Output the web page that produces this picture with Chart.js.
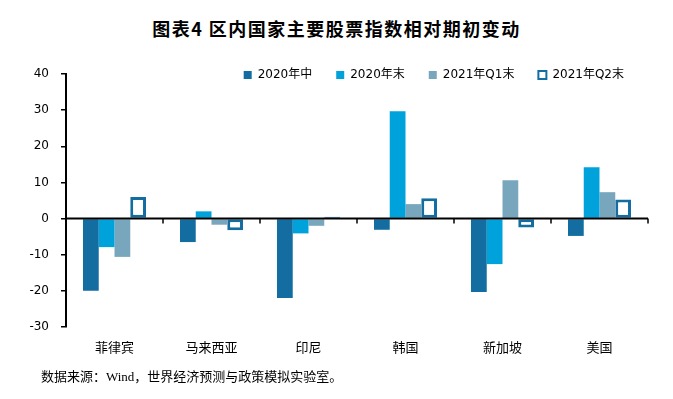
<!DOCTYPE html>
<html>
<head>
<meta charset="utf-8">
<script src="https://cdn.jsdelivr.net/npm/chart.js@4.4.1/dist/chart.umd.min.js"></script>
<style>
    html, body { margin: 0; padding: 0; background: #fff; }
    .wrap { position: relative; width: 673px; height: 399px; overflow: hidden; }
    .title {
        position: absolute; left: 0; top: 15px; width: 673px; text-align: center;
        font: bold 18px 'Noto Sans CJK SC', sans-serif; letter-spacing: 1.5px; color: #000;
    }
    .source {
        position: absolute; left: 41px; top: 366px;
        font: 13px 'Liberation Serif', 'Noto Sans CJK SC', serif; color: #000;
    }
    canvas { position: absolute; left: 0; top: 0; }
</style>
</head>
<body>
<div class="wrap">
    <div class="title">图表4 区内国家主要股票指数相对期初变动</div>
    <canvas id="chart" width="673" height="399"></canvas>
    <div class="source">数据来源：Wind，世界经济预测与政策模拟实验室。</div>
</div>
<script>
    const countries = ['菲律宾', '马来西亚', '印尼', '韩国', '新加坡', '美国'];
    const seriesNames = ['2020年中', '2020年末', '2021年Q1末', '2021年Q2末'];
    const mid2020 = [-20.0, -6.5, -22.0, -3.1, -20.3, -4.8];
    const end2020 = [-7.9, 2.0, -4.1, 29.7, -12.6, 14.2];
    const q1End2021 = [-10.6, -1.7, -2.0, 4.0, 10.6, 7.3];
    const q2End2021 = [6.0, -3.2, 0.5, 5.6, -2.5, 5.3];
    const yTicks = [-30, -20, -10, 0, 10, 20, 30, 40];

    const DARK = '#136da0';
    const BRIGHT = '#00a2dc';
    const GREY = '#78a6bd';
    const LEGEND_PAD = 24;

    // legend sits inside the plot top; zero line with little ticks between categories
    const zeroLine = {
        id: 'zeroLine',
        afterLayout(chart) {
            const lg = chart.legend;
            if (!lg) return;
            lg.top = chart.chartArea.top - LEGEND_PAD - 5;
            lg.bottom = lg.top + LEGEND_PAD + 20;
        },
        afterDatasetsDraw(chart) {
            const x = chart.scales.x, y = chart.scales.y;
            const y0 = y.getPixelForValue(0);
            const ctx = chart.ctx;
            ctx.save();
            ctx.strokeStyle = '#000';
            ctx.lineWidth = 2;
            ctx.beginPath();
            ctx.moveTo(chart.chartArea.left, y0);
            ctx.lineTo(chart.chartArea.right, y0);
            ctx.stroke();
            ctx.lineWidth = 1.5;
            for (let i = 1; i <= countries.length; i++) {
                const px = Math.round(x.getPixelForValue(i - 0.5));
                ctx.beginPath();
                ctx.moveTo(px, y0);
                ctx.lineTo(px, y0 + 5);
                ctx.stroke();
            }
            ctx.restore();
        }
    };

    const tickFont = { family: "'DejaVu Sans', 'Noto Sans CJK SC', sans-serif", size: 12 };

    new Chart(document.getElementById('chart').getContext('2d'), {
        type: 'bar',
        data: {
            labels: countries,
            datasets: [
                { label: seriesNames[0], data: mid2020, backgroundColor: DARK, borderWidth: 0 },
                { label: seriesNames[1], data: end2020, backgroundColor: BRIGHT, borderWidth: 0 },
                { label: seriesNames[2], data: q1End2021, backgroundColor: GREY, borderWidth: 0 },
                {
                    label: seriesNames[3], data: q2End2021, backgroundColor: '#fff',
                    borderColor: DARK, borderWidth: 3, borderSkipped: false
                }
            ]
        },
        options: {
            responsive: false,
            animation: false,
            devicePixelRatio: 1,
            categoryPercentage: 0.65,
            barPercentage: 1.0,
            layout: { padding: { left: 0, right: 25, top: 28, bottom: 32 } },
            plugins: {
                title: { display: false },
                tooltip: { enabled: false },
                legend: {
                    position: 'top',
                    align: 'end',
                    labels: {
                        color: '#000',
                        font: tickFont,
                        boxWidth: 8,
                        boxHeight: 8,
                        padding: LEGEND_PAD,
                        generateLabels(chart) {
                            return chart.data.datasets.map((ds, i) => ({
                                text: ds.label,
                                fillStyle: ds.backgroundColor,
                                strokeStyle: ds.borderWidth ? ds.borderColor : ds.backgroundColor,
                                lineWidth: ds.borderWidth ? 2 : 0,
                                fontColor: '#000',
                                datasetIndex: i,
                                hidden: false
                            }));
                        }
                    }
                }
            },
            scales: {
                x: {
                    grid: { display: false, drawTicks: false },
                    border: { display: false },
                    ticks: {
                        color: '#000',
                        padding: 12,
                        font: { family: "'Noto Sans CJK SC', sans-serif", size: 13 }
                    },
                    afterFit(scale) { scale.height = 40; }
                },
                y: {
                    min: -30,
                    max: 40,
                    afterBuildTicks(scale) { scale.ticks = yTicks.map(v => ({ value: v })); },
                    border: { display: true, color: '#000', width: 2 },
                    grid: { drawOnChartArea: false, drawTicks: true, tickLength: 5, color: '#000', lineWidth: 1.5 },
                    ticks: { color: '#000', padding: 12, font: tickFont },
                    afterFit(scale) { scale.width = 66; }
                }
            }
        },
        plugins: [zeroLine]
    });
</script>
</body>
</html>
